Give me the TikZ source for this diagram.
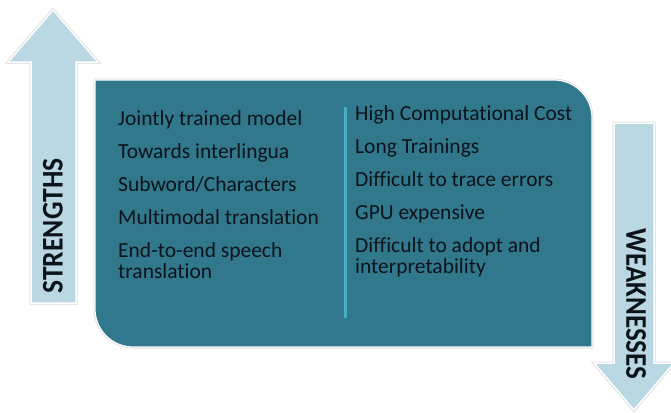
\documentclass[tikz,border=0pt]{standalone}
\usepackage{fontspec}
\setmainfont{Carlito}[Ligatures=NoCommon]
\usepackage{graphicx}
\usepackage{tikz}
\usetikzlibrary{
	math,
	% positioning,
	% shapes,
}
\definecolor{boxteal}{RGB}{50,120,140}
\definecolor{arrowblue}{RGB}{185,216,228}
\definecolor{dividerblue}{RGB}{75,172,198}
\definecolor{inkdark}{RGB}{12,20,26}

\tikzstyle{bigarrow} = [fill=arrowblue, draw=white, line width=1.5pt, line join=miter, preaction={draw=black!15, line width=3pt}]
\tikzstyle{panel} = [fill=boxteal, draw=white, line width=1.2pt, preaction={draw=black!15, line width=2.6pt}]
\tikzstyle{item} = [anchor=base west, inner sep=0pt, align=left, text=inkdark, font=\fontsize{21.5}{21.5}\selectfont]
\tikzstyle{sidelabel} = [inner sep=0pt, text=inkdark, font=\fontsize{30}{30}\selectfont\bfseries]

\begin{document}
\begin{tikzpicture}[x=1pt, y=-1pt]
	\useasboundingbox (0,0) rectangle (671,412);

	% up and down arrows
	\draw[bigarrow] (53,10) -- (98,62) -- (76,62) -- (76,303) -- (31,303) -- (31,62) -- (8,62) -- cycle;
	\draw[bigarrow] (614,123) -- (654,123) -- (654,363) -- (674,363) -- (634,410) -- (594,363) -- (614,363) -- cycle;

	% main panel, two rounded corners
	\draw[panel] (95,80) -- (554,80)
	.. controls (575,80) and (592,97) .. (592,118)
	-- (592,347) -- (133,347)
	.. controls (112,347) and (95,330) .. (95,309)
	-- cycle;

	% divider
	\draw[dividerblue, line width=3pt] (345,107) -- (345,318);

	% strengths (last entry has two lines, base is its last line)
	\foreach \txt/\dy [count=\i] in {Jointly trained model/0, Towards interlingua/0, {Subword/Characters}/0,
			Multimodal translation/0, {End-to-end speech\\translation}/21.5} {
			\node[item] (s\i) at (118, {125+33*(\i-1)+\dy}) {\txt};
		}

	% weaknesses
	\foreach \txt/\dy [count=\i] in {High Computational Cost/0, Long Trainings/0, Difficult to trace errors/0,
			GPU expensive/0, {Difficult to adopt and\\interpretability}/21.5} {
			\node[item] (w\i) at (355, {120+33*(\i-1)+\dy}) {\txt};
		}

	% labels
	\node[sidelabel, rotate=90] (strengths) at (53,226) {\scalebox{0.92}[1]{STRENGTHS}};
	\node[sidelabel, rotate=-90] (weaknesses) at (636,304) {\scalebox{0.9}[1]{WEAKNESSES}};

\end{tikzpicture}
\end{document}
